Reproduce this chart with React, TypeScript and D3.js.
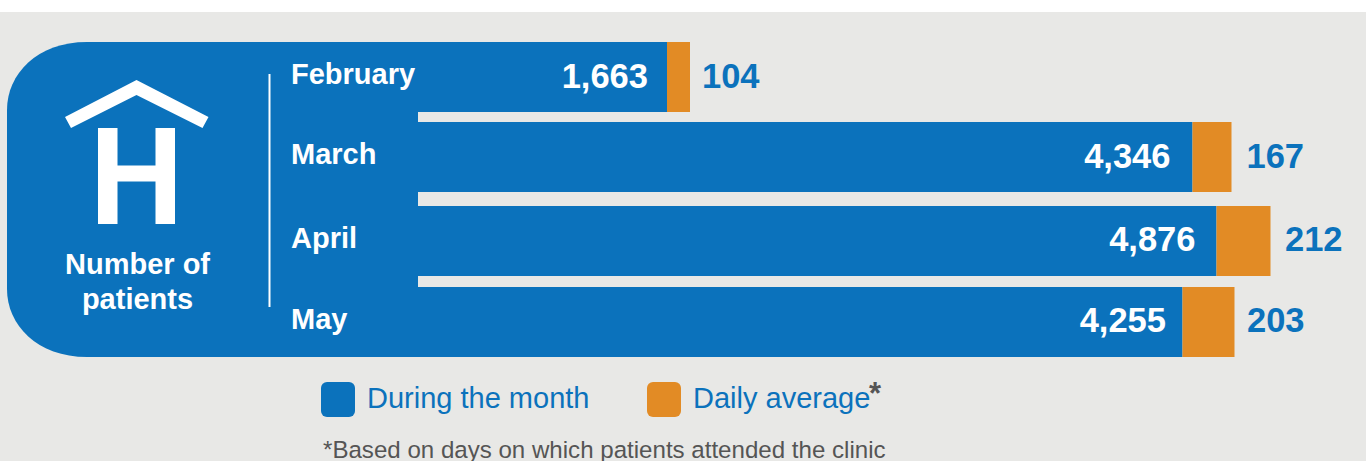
import React from "react";
import * as d3 from "d3";

const months = ["February", "March", "April", "May"];
const monthTotals = [1663, 4346, 4876, 4255];
const dailyAverages = [104, 167, 212, 203];
const legendLabels = ["During the month", "Daily average"];
const titleLines = ["Number of", "patients"];
const footnote = "*Based on days on which patients attended the clinic";

const BLUE = "#0b72bc";
const ORANGE = "#e28b25";
const BG = "#e8e8e6";
const FONT = "'Liberation Sans', Arial, sans-serif";

// The source graphic's bars are not drawn to a single linear scale: piecewise scales follow it.
const xTotal = d3.scaleLinear().domain([1663, 4255, 4346, 4876]).range([667, 1182.5, 1192.5, 1216.5]);
const wAvg = d3.scaleLinear().domain([104, 167, 203, 212]).range([23, 39, 52, 54]);
const fmt = d3.format(",");

const barTops = [42, 122, 206, 287];
const barH = 70;
const labelY = [84, 164, 248, 329];
const valueY = [88, 168, 251, 332];
const innerGap = [19, 22, 21, 16.5];
const outerGap = [12, 15, 14.5, 12.5];
const panelRight = 418;

const panelPath = (() => {
  const p = d3.path();
  const x0 = 7, y0 = 42, y1 = 357, rx = 80;
  p.moveTo(panelRight, y0);
  p.lineTo(x0 + rx, y0);
  p.bezierCurveTo(x0 + 30, y0, x0, y0 + 32, x0, y0 + 68);
  p.lineTo(x0, y1 - 68);
  p.bezierCurveTo(x0, y1 - 32, x0 + 30, y1, x0 + rx, y1);
  p.lineTo(panelRight, y1);
  p.closePath();
  return p.toString();
})();

export default function App() {
  return (
    <svg width={1366} height={461} style={{ position: "absolute", left: 0, top: 0, display: "block" }} fontFamily={FONT}>
      <rect x={0} y={0} width={1366} height={461} fill="#fff" />
      <rect x={0} y={12} width={1366} height={449} fill={BG} />
      <path d={panelPath} fill={BLUE} />
      {months.map((m, i) => {
        const xe = xTotal(monthTotals[i]);
        const w = wAvg(dailyAverages[i]);
        return (
          <g key={m}>
            <rect x={panelRight - 1} y={barTops[i]} width={xe - panelRight + 1} height={barH} fill={BLUE} />
            <rect x={xe} y={barTops[i]} width={w} height={barH} fill={ORANGE} />
            <text x={291} y={labelY[i]} fill="#fff" fontWeight={700} fontSize={29}>{m}</text>
            <text x={xe - innerGap[i]} y={valueY[i]} fill="#fff" fontWeight={700} fontSize={34.5} textAnchor="end">{fmt(monthTotals[i])}</text>
            <text x={xe + w + outerGap[i]} y={valueY[i]} fill={BLUE} fontWeight={700} fontSize={34.5}>{dailyAverages[i]}</text>
          </g>
        );
      })}
      <line x1={269.5} x2={269.5} y1={74} y2={307} stroke="#fff" strokeWidth={2} />
      {/* hospital icon */}
      <path d="M65 117 L136.500 80 L208.500 117 L202.500 128 L136.500 95 L71 128 Z" fill="#fff" />
      <path d="M98 128 H117.500 V165.500 H155.500 V128 H175 V224 H155.500 V181.500 H117.500 V224 H98 Z" fill="#fff" />
      {titleLines.map((t, i) => (
        <text key={t} x={137.500} y={274 + i * 35} textAnchor="middle" fill="#fff" fontWeight={700} fontSize={29}>{t}</text>
      ))}
      {/* legend */}
      <rect x={321} y={382} width={34} height={35} rx={6} fill={BLUE} />
      <text x={367} y={408} fill={BLUE} fontSize={29}>{legendLabels[0]}</text>
      <rect x={647} y={382} width={34} height={35} rx={6} fill={ORANGE} />
      <text x={693} y={408} fill={BLUE} fontSize={29}>{legendLabels[1]}</text>
      <text x={869} y={404} fill="#555" fontWeight={700} fontSize={31}>*</text>
      <text x={323} y={458} fill="#555" fontSize={24.1}>{footnote}</text>
    </svg>
  );
}
